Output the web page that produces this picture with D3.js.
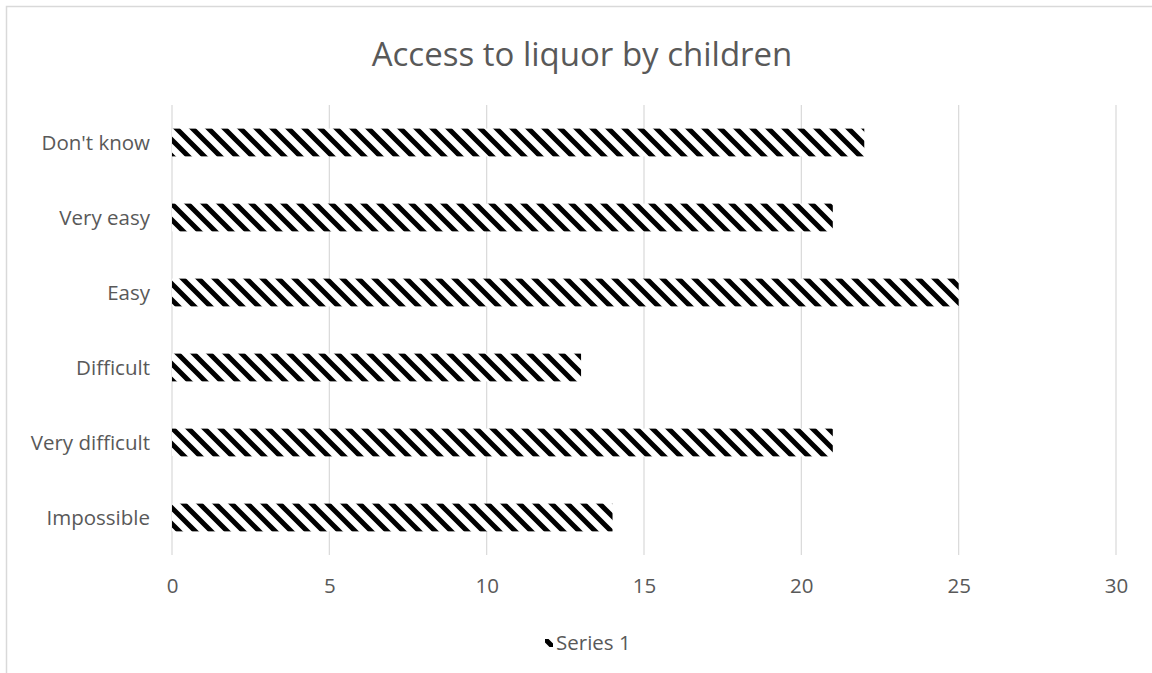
<!DOCTYPE html>
<html>
<head>
<meta charset="utf-8">
<script src="https://cdn.jsdelivr.net/npm/d3@7"></script>
<style>
  html, body { margin: 0; padding: 0; background: #fff; }
  svg { display: block; }
  text { font-family: "Open Sans", "Liberation Sans", sans-serif; fill: #595959; }
</style>
</head>
<body>
<svg id="chart" width="1152" height="673"></svg>
<script>
// Chart data
const categories = ["Don't know", "Very easy", "Easy", "Difficult", "Very difficult", "Impossible"];
const values = [22, 21, 25, 13, 21, 14];
const xTicks = [0, 5, 10, 15, 20, 25, 30];
const seriesName = "Series 1";
const title = "Access to liquor by children";

const W = 1152, H = 673;
const plot = { left: 172, right: 1116, top: 105, bottom: 555 };
const labelFont = "20.5px";

const svg = d3.select("#chart");

// Wide downward-diagonal hatch fill
const defs = svg.append("defs");
const pat = defs.append("pattern")
  .attr("id", "hatch")
  .attr("patternUnits", "userSpaceOnUse")
  .attr("width", 16).attr("height", 16);
pat.append("rect").attr("width", 16).attr("height", 16).attr("fill", "#fff");
pat.append("path")
  .attr("d", "M-4,-4 L20,20 M-4,12 L4,20 M12,-4 L20,4")
  .attr("stroke", "#000")
  .attr("stroke-width", 5)
  .attr("fill", "none");

// Outer chart frame
svg.append("rect")
  .attr("x", 6.5).attr("y", 6.5)
  .attr("width", W + 20).attr("height", H + 20)
  .attr("fill", "none")
  .attr("stroke", "#d9d9d9")
  .attr("stroke-width", 1.5);

const x = d3.scaleLinear().domain([0, 30]).range([plot.left, plot.right]);
const y = d3.scaleBand().domain(categories).range([plot.top, plot.bottom]).paddingInner(0.63).paddingOuter(0.315);

// Vertical gridlines
svg.append("g")
  .selectAll("line")
  .data(xTicks)
  .join("line")
  .attr("x1", d => x(d)).attr("x2", d => x(d))
  .attr("y1", plot.top).attr("y2", plot.bottom)
  .attr("stroke", "#d9d9d9")
  .attr("stroke-width", 1.2);

// Bars
svg.append("g")
  .selectAll("rect")
  .data(categories.map((c, i) => ({ c, v: values[i] })))
  .join("rect")
  .attr("x", x(0))
  .attr("y", d => y(d.c))
  .attr("width", d => x(d.v) - x(0))
  .attr("height", y.bandwidth())
  .attr("fill", "url(#hatch)");

// X axis tick labels
const xAxis = d3.axisBottom(x).tickValues(xTicks).tickSize(0).tickPadding(0);
const gx = svg.append("g")
  .attr("transform", `translate(0,${plot.bottom + 38})`)
  .call(xAxis);
gx.select(".domain").remove();
gx.selectAll("text")
  .attr("dy", 0)
  .style("font-size", labelFont)
  .style("font-family", "'Open Sans', sans-serif")
  .attr("fill", "#595959");

// Category labels
const yAxis = d3.axisLeft(y).tickSize(0).tickPadding(0);
const gy = svg.append("g")
  .attr("transform", `translate(${plot.left - 22},0)`)
  .call(yAxis);
gy.select(".domain").remove();
gy.selectAll("text")
  .attr("dy", "0.35em")
  .style("font-size", labelFont)
  .style("font-family", "'Open Sans', sans-serif")
  .attr("fill", "#595959");

// Title
svg.append("text")
  .attr("x", 582).attr("y", 66)
  .attr("text-anchor", "middle")
  .style("font-size", "33px")
  .text(title);

// Legend
const lg = svg.append("g").attr("transform", "translate(545,639)");
lg.append("rect").attr("width", 8).attr("height", 8).attr("fill", "url(#hatch)");
lg.append("text")
  .attr("x", 11).attr("y", 4).attr("dy", "0.35em")
  .style("font-size", labelFont)
  .text(seriesName);
</script>
</body>
</html>
